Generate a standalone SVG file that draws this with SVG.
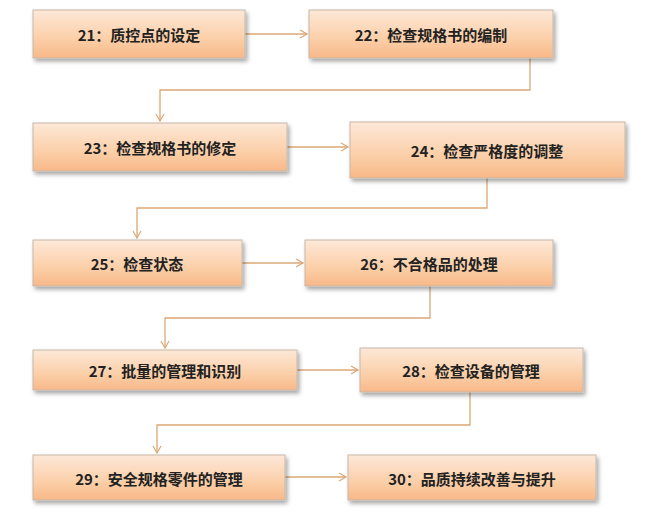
<svg xmlns="http://www.w3.org/2000/svg" width="647" height="518" viewBox="0 0 647 518">
<defs>
<linearGradient id="g" x1="0" y1="0" x2="0" y2="1"><stop offset="0" stop-color="#fde8d8"/><stop offset="0.6" stop-color="#fbcfa8"/><stop offset="1" stop-color="#f8b888"/></linearGradient>
<filter id="sh" x="-5%" y="-10%" width="115%" height="140%"><feDropShadow dx="2" dy="3" stdDeviation="2" flood-color="#000" flood-opacity="0.35"/></filter>
<marker id="a" markerWidth="10" markerHeight="10" refX="8" refY="5" orient="auto" markerUnits="userSpaceOnUse"><path d="M1,1 L8,5 L1,9" fill="none" stroke="#dba877" stroke-width="1.2"/></marker>
</defs>
<style>
.b{fill:url(#g);stroke:#c8b8a8;stroke-width:1;filter:url(#sh)}
.t{font-family:"Noto Sans CJK SC",sans-serif;font-size:15px;font-weight:bold;fill:#222;text-anchor:middle;dominant-baseline:central}
.c{fill:none;stroke:#dba877;stroke-width:1.3;marker-end:url(#a)}
</style>
<rect width="647" height="518" fill="#fff"/>
<g id="connectors">
<path class="c" d="M245,34 H307"/>
<path class="c" d="M530,58 V90 H160 V121"/>
<path class="c" d="M287,147 H348"/>
<path class="c" d="M487,178 V208 H137 V238"/>
<path class="c" d="M242,263 H303"/>
<path class="c" d="M430,286 V318 H165 V348"/>
<path class="c" d="M297,370 H358"/>
<path class="c" d="M470,392 V425 H157 V453"/>
<path class="c" d="M285,477 H346"/>
</g>
<g id="n21"><rect class="b" x="33" y="10" width="212" height="48"/><text class="t" x="139" y="34">21：质控点的设定</text></g>
<g id="n22"><rect class="b" x="309" y="10" width="244" height="48"/><text class="t" x="431" y="34">22：检查规格书的编制</text></g>
<g id="n23"><rect class="b" x="33" y="123" width="254" height="48"/><text class="t" x="160" y="147">23：检查规格书的修定</text></g>
<g id="n24"><rect class="b" x="350" y="122" width="275" height="56"/><text class="t" x="487" y="150">24：检查严格度的调整</text></g>
<g id="n25"><rect class="b" x="33" y="240" width="209" height="46"/><text class="t" x="137" y="263">25：检查状态</text></g>
<g id="n26"><rect class="b" x="305" y="240" width="248" height="46"/><text class="t" x="429" y="263">26：不合格品的处理</text></g>
<g id="n27"><rect class="b" x="33" y="350" width="264" height="40"/><text class="t" x="165" y="370">27：批量的管理和识别</text></g>
<g id="n28"><rect class="b" x="360" y="348" width="223" height="44"/><text class="t" x="471" y="370">28：检查设备的管理</text></g>
<g id="n29"><rect class="b" x="33" y="455" width="252" height="45"/><text class="t" x="159" y="478">29：安全规格零件的管理</text></g>
<g id="n30"><rect class="b" x="348" y="455" width="248" height="45"/><text class="t" x="472" y="478">30：品质持续改善与提升</text></g>
</svg>
